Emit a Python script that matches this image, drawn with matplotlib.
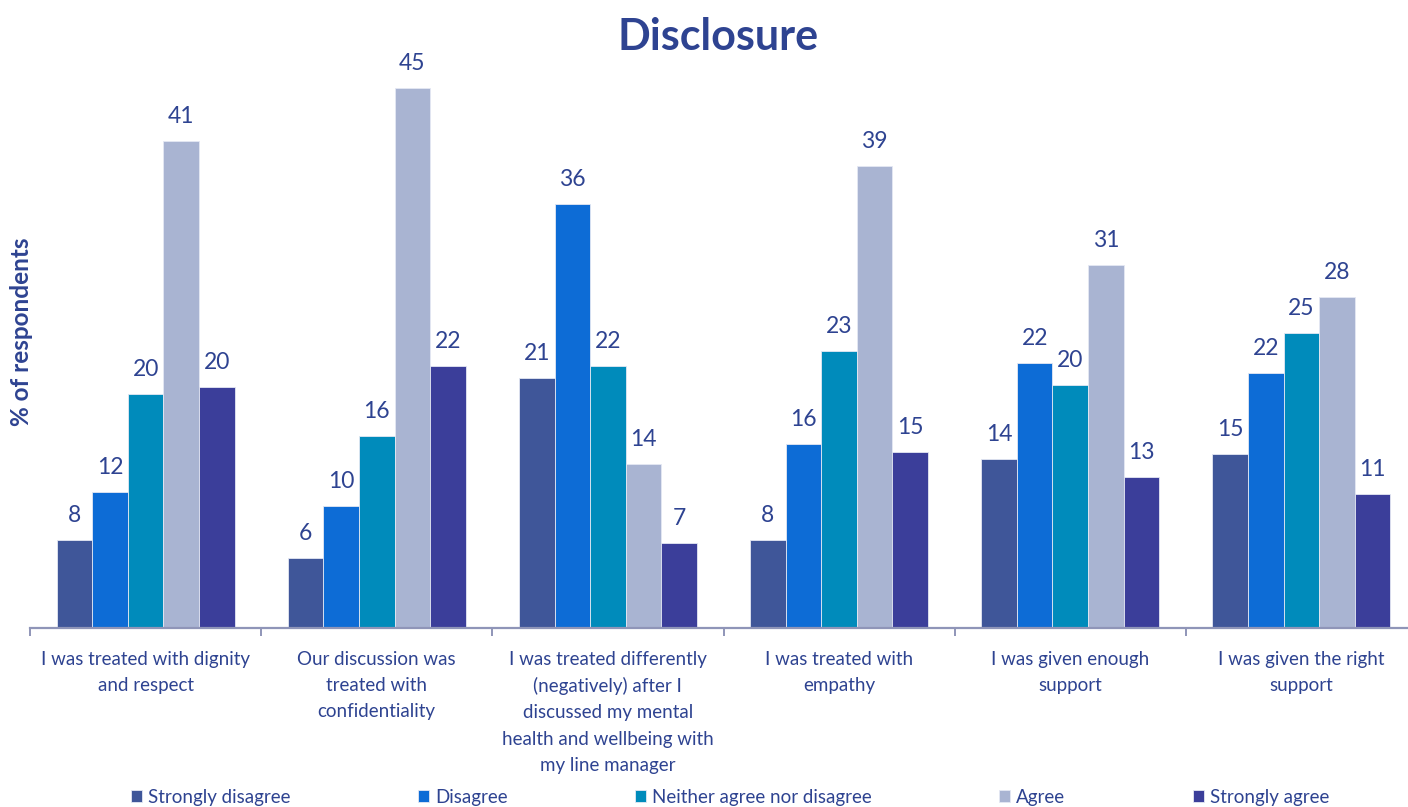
import matplotlib
matplotlib.use("Agg")
import matplotlib.pyplot as plt
import numpy as np

plt.rcParams["font.family"] = ["Lato", "DejaVu Sans"]

# データ
categories = [
    "I was treated with dignity\nand respect",
    "Our discussion was\ntreated with\nconfidentiality",
    "I was treated differently\n(negatively) after I\ndiscussed my mental\nhealth and wellbeing with\nmy line manager",
    "I was treated with\nempathy",
    "I was given enough\nsupport",
    "I was given the right\nsupport",
]
series_names = [
    "Strongly disagree",
    "Disagree",
    "Neither agree nor disagree",
    "Agree",
    "Strongly agree",
]
strongly_disagree = [7.4, 5.9, 20.9, 7.4, 14.1, 14.5]
disagree = [11.4, 10.2, 35.4, 15.4, 22.1, 21.3]
neither = [19.5, 16.0, 21.9, 23.1, 20.3, 24.6]
agree = [40.6, 45.0, 13.7, 38.5, 30.3, 27.6]
strongly_agree = [20.1, 21.9, 7.1, 14.7, 12.6, 11.2]

# 表示ラベル（四捨五入済み）
labels_sd = [8, 6, 21, 8, 14, 15]
labels_d = [12, 10, 36, 16, 22, 22]
labels_n = [20, 16, 22, 23, 20, 25]
labels_a = [41, 45, 14, 39, 31, 28]
labels_sa = [20, 22, 7, 15, 13, 11]

series = [strongly_disagree, disagree, neither, agree, strongly_agree]
series_labels = [labels_sd, labels_d, labels_n, labels_a, labels_sa]
colors = ["#3F5699", "#0D6CD6", "#008BBB", "#A9B4D2", "#3B3E9A"]
text_color = "#2E4391"
axis_color = "#8F95B8"

W, H = 1408, 807
fig = plt.figure(figsize=(W / 100, H / 100), dpi=100)

# 軸の位置（ピクセルから計算）
base_y = 628.3
px_per_unit = 12.0
ymax = 48
ax = fig.add_axes([30 / W, (H - base_y) / H, 1387 / W, ymax * px_per_unit / H])

x = np.arange(len(categories))
bar_w = 0.154
for i, (vals, labs, c, name) in enumerate(zip(series, series_labels, colors, series_names)):
    pos = x + (i - 2) * bar_w
    ax.bar(pos, vals, width=bar_w, color=c, edgecolor="#e4e8f3", linewidth=0.6, label=name)
    for xp, v, lab in zip(pos, vals, labs):
        ax.annotate(str(lab), (xp, v), xytext=(0, 10), textcoords="offset points",
                    ha="center", va="bottom", fontsize=16.5, color=text_color, clip_on=False)

ax.set_xlim(-0.5, len(categories) - 0.5)
ax.set_ylim(0, ymax)

for s in ["top", "right", "left"]:
    ax.spines[s].set_visible(False)
ax.spines["bottom"].set_color(axis_color)
ax.spines["bottom"].set_linewidth(1.6)
ax.set_yticks([])

ax.set_xticks(x)
ax.set_xticklabels(categories, fontsize=13.5, color=text_color, linespacing=1.65)
ax.tick_params(axis="x", which="major", length=0, pad=16)
ax.set_xticks(np.arange(-0.5, len(categories) + 0.5, 1), minor=True)
ax.tick_params(axis="x", which="minor", length=6, width=1.4, color=axis_color, direction="out")

fig.text(718 / W, 1 - 37 / H, "Disclosure", ha="center", va="center",
         fontsize=31, fontweight="bold", color=text_color)
fig.text(22 / W, 1 - 332 / H, "% of respondents", ha="center", va="center", rotation=90,
         fontsize=17.5, fontweight="bold", color=text_color)

handles, leg_labels = ax.get_legend_handles_labels()
leg = fig.legend(handles, leg_labels, loc="center", bbox_to_anchor=(730 / W, 1 - 797 / H),
                 ncol=5, frameon=False, fontsize=13.5, handlelength=0.6, handleheight=0.6,
                 handletextpad=0.3, columnspacing=6.8, borderpad=0)
for t in leg.get_texts():
    t.set_color(text_color)

fig.savefig("out.png", dpi=100)
